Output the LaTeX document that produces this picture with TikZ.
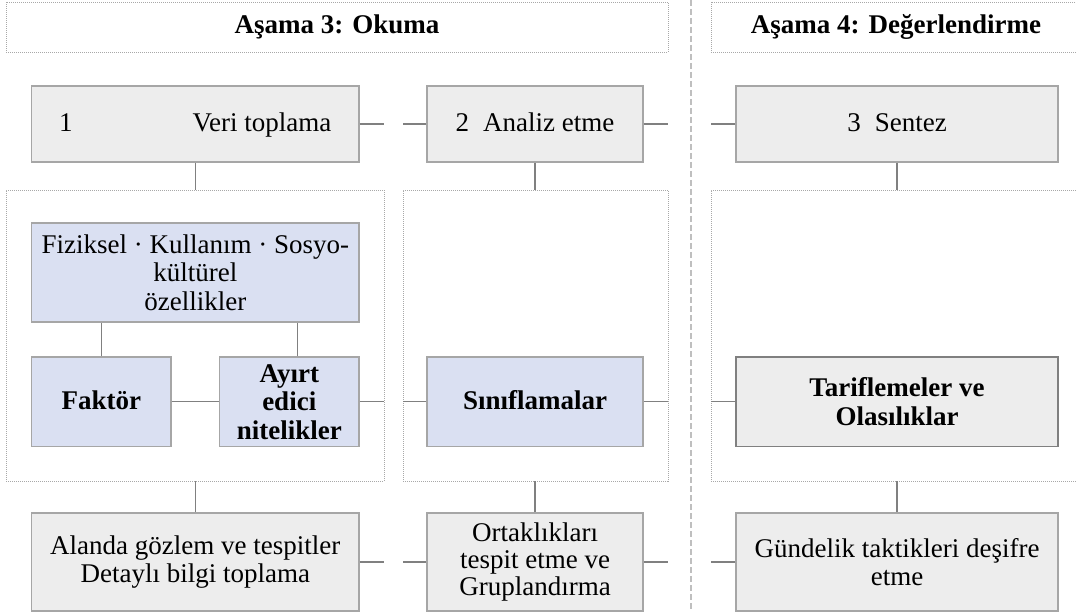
\documentclass[tikz,border=0pt]{standalone}
\usepackage{fontspec}
\setmainfont{Liberation Serif}
\usepackage{tikz}
\usetikzlibrary{calc}
\definecolor{boxgray}{HTML}{EDEDED}
\definecolor{boxblue}{HTML}{DAE0F2}
\definecolor{edgegray}{HTML}{A6A6A6}
\definecolor{linegray}{HTML}{808080}
\definecolor{dotgray}{HTML}{A8A8A8}
\definecolor{divgray}{HTML}{BFBFBF}
\def\bigtext{\fontsize{27}{28.5}\selectfont}

\begin{document}
\begin{tikzpicture}[x=1pt, y=-1pt,
		every node/.style={font=\bigtext, align=center, inner sep=0pt},
		graybox/.style={draw=edgegray, fill=boxgray, line width=1.3pt},
		bluebox/.style={draw=edgegray, fill=boxblue, line width=1.3pt},
		dotbox/.style={draw=dotgray, line width=0.8pt, dash pattern=on 1pt off 1pt},
		oneline/.style={text height=20pt, text depth=4pt},
		conn/.style={draw=linegray, line width=1.3pt}]
			%%%%% START %%%%%
			
			\useasboundingbox (0, 0) rectangle (1076, 612);
			
			\node[dotbox, minimum width=662pt, minimum height=50pt, font=\bigtext\bfseries] (hdrokuma) at (337, 27) {Aşama 3: Okuma};
			\node[dotbox, minimum width=370pt, minimum height=50pt, font=\bigtext\bfseries] (hdrdeger) at (896, 27) {Aşama 4: Değerlendirme};
			
			\draw[draw=divgray, line width=1.8pt, dash pattern=on 6pt off 3pt] (691, 0) -- (691, 612);
			
			\node[dotbox, minimum width=378pt, minimum height=291pt] (dotokuma) at (195, 335.5) {};
			\node[dotbox, minimum width=265pt, minimum height=291pt] (dotanaliz) at (535.5, 335.5) {};
			\node[dotbox, minimum width=379pt, minimum height=291pt] (dotsentez) at (900.5, 335.5) {};
			
			\node[graybox, oneline, minimum width=327.5pt, minimum height=76pt] (veri) at (195.25, 124) {1\hspace*{120pt}Veri toplama};
			\node[graybox, oneline, minimum width=216pt, minimum height=76pt] (analiz) at (535, 124) {2\hspace*{14pt}Analiz etme};
			\node[graybox, oneline, minimum width=322pt, minimum height=76pt] (sentez) at (897, 124) {3\hspace*{14pt}Sentez};
			
			\node[bluebox, minimum width=327.5pt, minimum height=99pt] (fiziksel) at (195.25, 272.5) {Fiziksel · Kullanım · Sosyo-\\kültürel\\özellikler};
			\node[bluebox, oneline, minimum width=139.5pt, minimum height=89.5pt, font=\bigtext\bfseries] (faktor) at (101.25, 401.75) {Faktör};
			\node[bluebox, minimum width=139.5pt, minimum height=89.5pt, font=\bigtext\bfseries] (ayirt) at (289.25, 401.75) {Ayırt\\edici\\nitelikler};
			\node[bluebox, oneline, minimum width=216pt, minimum height=89.5pt, font=\bigtext\bfseries] (sinif) at (535, 401.75) {Sınıflamalar};
			\node[graybox, draw=linegray, line width=1.8pt, minimum width=322pt, minimum height=89.5pt, font=\bigtext\bfseries] (tarif) at (897, 401.75) {Tariflemeler ve\\Olasılıklar};
			
			\node[graybox, minimum width=327.5pt, minimum height=98pt] (alanda) at (195.25, 562) {Alanda gözlem ve tespitler\\Detaylı bilgi toplama};
			\node[graybox, minimum width=216pt, minimum height=98pt, font=\fontsize{27}{27}\selectfont] (ortak) at (535, 562) {Ortaklıkları\\tespit etme ve\\Gruplandırma};
			\node[graybox, minimum width=322pt, minimum height=98pt] (gundelik) at (897, 562) {Gündelik taktikleri deşifre\\etme};
			
			% row 1
			\draw[conn] (veri.east) -- (veri.east -| dotokuma.east);
			\draw[conn] (analiz.west) -- (analiz.west -| dotanaliz.west);
			\draw[conn] (analiz.east) -- (analiz.east -| dotanaliz.east);
			\draw[conn] (sentez.west) -- (sentez.west -| dotsentez.west);
			\draw[conn] (veri.south) -- (veri.south |- dotokuma.north);
			\draw[conn] (analiz.south) -- (analiz.south |- dotanaliz.north);
			\draw[conn] (sentez.south) -- (sentez.south |- dotsentez.north);
			
			% row 2
			\draw[conn] (faktor.north) -- (faktor.north |- fiziksel.south);
			\draw[conn] ([xshift=8pt]ayirt.north) -- ([xshift=8pt]ayirt.north |- fiziksel.south);
			\draw[conn] (faktor.east) -- (ayirt.west);
			\draw[conn] (ayirt.east) -- (ayirt.east -| dotokuma.east);
			\draw[conn] (sinif.west) -- (sinif.west -| dotanaliz.west);
			\draw[conn] (sinif.east) -- (sinif.east -| dotanaliz.east);
			\draw[conn] (tarif.west) -- (tarif.west -| dotsentez.west);
			
			% row 3
			\draw[conn] (alanda.north) -- (alanda.north |- dotokuma.south);
			\draw[conn] (ortak.north) -- (ortak.north |- dotanaliz.south);
			\draw[conn] (gundelik.north) -- (gundelik.north |- dotsentez.south);
			\draw[conn] (alanda.east) -- (alanda.east -| dotokuma.east);
			\draw[conn] (ortak.west) -- (ortak.west -| dotanaliz.west);
			\draw[conn] (ortak.east) -- (ortak.east -| dotanaliz.east);
			\draw[conn] (gundelik.west) -- (gundelik.west -| dotsentez.west);
			
			%%%%% END %%%%%
		\end{tikzpicture}
\end{document}
